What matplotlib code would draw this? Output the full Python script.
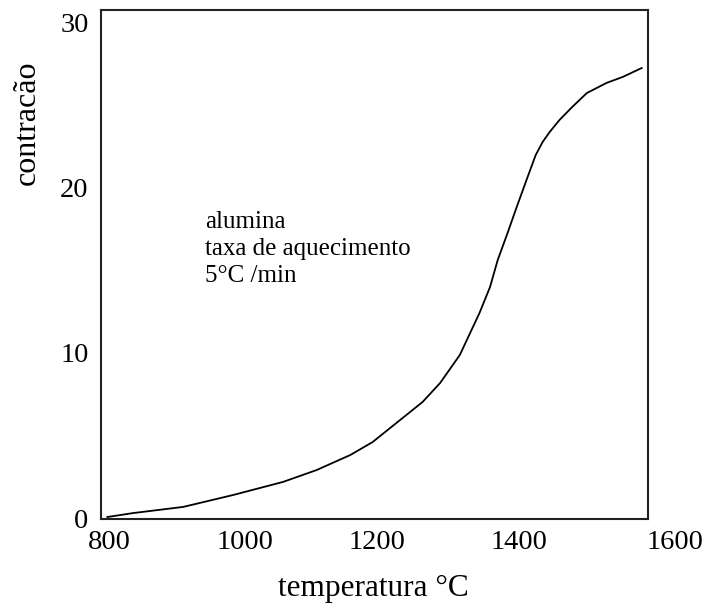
import numpy as np
import matplotlib.pyplot as plt

# curve
temperatura = [804, 841, 912, 983, 1054, 1102, 1150, 1182, 1221, 1253, 1278,
               1306, 1334, 1349, 1360, 1374, 1387, 1401, 1414, 1424, 1434, 1448,
               1466, 1487, 1515, 1538, 1565]
contracao = [0.06, 0.30, 0.67, 1.39, 2.18, 2.90, 3.81, 4.60, 5.93, 7.02, 8.17,
             9.86, 12.40, 13.97, 15.61, 17.24, 18.81, 20.45, 21.95, 22.75, 23.35, 24.08,
             24.86, 25.71, 26.32, 26.68, 27.22]

x_labels = ["800", "1000", "1200", "1400", "1600"]
y_ticks = [0, 10, 20, 30]

plt.rcParams['font.family'] = ['Liberation Serif', 'DejaVu Serif']

fig = plt.figure(figsize=(7.1, 6.07), dpi=100)
ax = fig.add_axes([101/710, 88/607, 547/710, 509/607])

ax.plot(temperatura, contracao, color='black', lw=1.3)

ax.set_xlim(795, 1574)
ax.set_ylim(-0.06, 30.73)

for s in ax.spines.values():
    s.set_color('#222222')
    s.set_linewidth(1.5)

ax.set_xticks([])
ax.set_yticks(y_ticks)
ax.set_yticklabels([str(v) for v in y_ticks], fontsize=20.5)
ax.tick_params(axis='y', length=0, pad=9)

# x labels sit a bit irregularly in the original
x_label_pos = [0.016, 0.263, 0.505, 0.765, 1.05]
for pos, lab in zip(x_label_pos, x_labels):
    ax.text(pos, -0.0452, lab, transform=ax.transAxes, ha='center',
            va='center', fontsize=20.5, clip_on=False)

fig.text(373/710, 0.03, "temperatura °C", ha='center', va='center', fontsize=22.5)
fig.text(27/710, 1 - 123/607, "contracão", rotation=90, ha='center',
         va='center', fontsize=23)

ax.text(0.19, 0.605, "alumina\ntaxa de aquecimento\n5°C /min",
        transform=ax.transAxes, ha='left', va='top', fontsize=18, linespacing=1.29)

fig.savefig("out.png", dpi=100)
